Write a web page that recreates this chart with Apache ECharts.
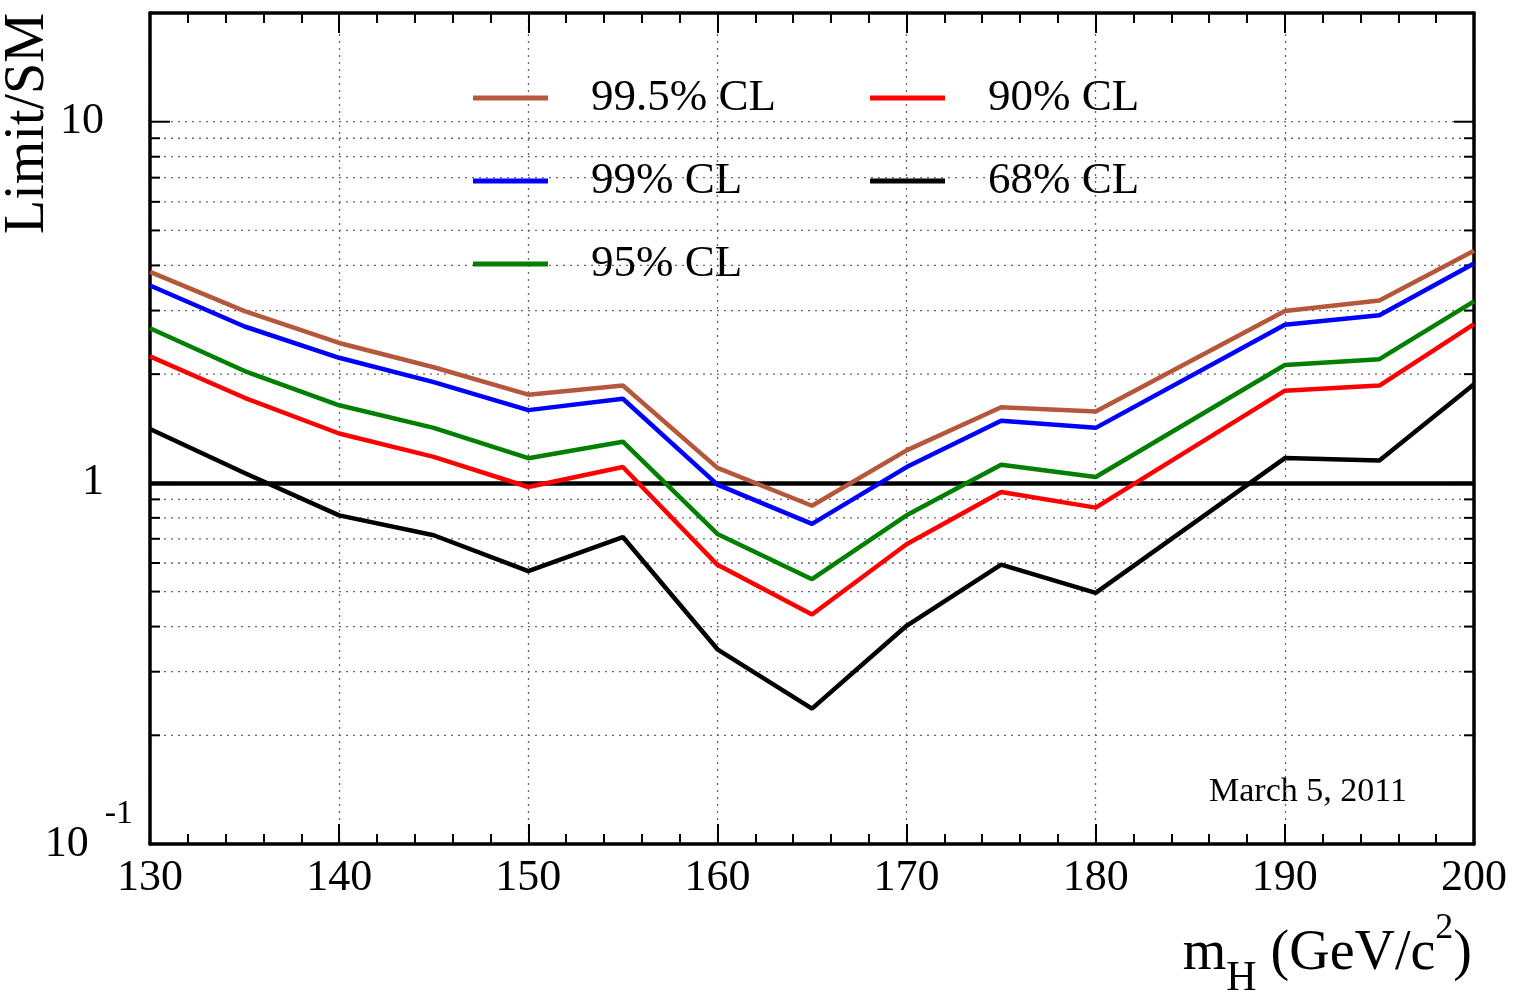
<!DOCTYPE html>
<html>
<head>
<meta charset="utf-8">
<script src="https://cdn.jsdelivr.net/npm/echarts@6/dist/echarts.min.js"></script>
<style>
html,body{margin:0;padding:0;background:#fff;}
#chart{width:1529px;height:996px;}
</style>
</head>
<body>
<div id="chart"></div>
<script>
// ---- data ----
const massPoints = [130, 135, 140, 145, 150, 155, 160, 165, 170, 175, 180, 190, 195, 200];
const cl995 = [3.84, 2.99, 2.44, 2.09, 1.755, 1.86, 1.10, 0.864, 1.23, 1.62, 1.575, 2.99, 3.20, 4.39];
const cl99  = [3.52, 2.71, 2.22, 1.90, 1.59, 1.71, 0.989, 0.770, 1.106, 1.485, 1.42, 2.74, 2.91, 4.05];
const cl95  = [2.68, 2.04, 1.64, 1.42, 1.17, 1.30, 0.722, 0.541, 0.813, 1.123, 1.038, 2.12, 2.20, 3.18];
const cl90  = [2.24, 1.72, 1.37, 1.18, 0.974, 1.106, 0.593, 0.432, 0.676, 0.943, 0.854, 1.80, 1.86, 2.75];
const cl68  = [1.41, 1.065, 0.813, 0.716, 0.570, 0.708, 0.346, 0.237, 0.402, 0.594, 0.496, 1.171, 1.154, 1.875];

const seriesNames = ['99.5% CL', '99% CL', '95% CL', '90% CL', '68% CL'];
const seriesColors = ['#b5573b', '#0000ff', '#007f00', '#ff0000', '#000000'];
const legendCol1 = ['99.5% CL', '99% CL', '95% CL'];
const legendCol2 = ['90% CL', '68% CL'];

const xMin = 130, xMax = 200, xStep = 10;
const yMin = 0.1, yMax = 20;
const yMajorTicks = [0.1, 1, 10];
const yMinorTicks = [0.2, 0.3, 0.4, 0.5, 0.6, 0.7, 0.8, 0.9, 2, 3, 4, 5, 6, 7, 8, 9];
const smLine = 1;

const xTitle = '{m|m}{h|H}{t| (GeV/c}{sq|2}{t|)}';
const yTitle = 'Limit/SM';
const dateNote = 'March 5, 2011';

// ---- build ----
const FONT = 'Liberation Serif';
const allSeriesData = [cl995, cl99, cl95, cl90, cl68];

const lineSeries = allSeriesData.map((arr, i) => ({
  name: seriesNames[i],
  type: 'line',
  xAxisIndex: 0,
  yAxisIndex: 0,
  data: massPoints.map((m, j) => [m, arr[j]]),
  showSymbol: false,
  symbol: 'none',
  color: seriesColors[i],
  lineStyle: { width: 4.5, color: seriesColors[i] },
  z: 3,
  animation: false
}));

const tickData = yMajorTicks.map(v => [xMin, v, 1]).concat(yMinorTicks.map(v => [xMin, v, 0]));

const gridSeries = {
  name: 'ygrid',
  type: 'custom',
  xAxisIndex: 0,
  yAxisIndex: 0,
  data: tickData,
  encode: { x: 0, y: 1 },
  clip: false,
  silent: true,
  z: 1,
  renderItem: function (params, api) {
    const v = api.value(1);
    const major = api.value(2) === 1;
    const L = api.coord([xMin, v]);
    const R = api.coord([xMax, v]);
    const len = major ? 20 : 10;
    const children = [];
    if (v > yMin * 1.01) {
      children.push({ type: 'line', shape: { x1: L[0], y1: L[1], x2: R[0], y2: R[1] },
        style: { stroke: '#666', lineWidth: 1.3, lineDash: [2, 5] } });
    }
    children.push({ type: 'line', shape: { x1: L[0], y1: L[1], x2: L[0] + len, y2: L[1] },
      style: { stroke: '#000', lineWidth: 2 } });
    children.push({ type: 'line', shape: { x1: R[0] - len, y1: R[1], x2: R[0], y2: R[1] },
      style: { stroke: '#000', lineWidth: 2 } });
    return { type: 'group', children: children };
  },
  markLine: {
    silent: true,
    symbol: 'none',
    z: 2,
    label: { show: false },
    lineStyle: { color: '#000', width: 4.5, type: 'solid' },
    data: [{ yAxis: smLine }],
    animation: false
  },
  animation: false
};

function xAxisCfg(pos, showLabel) {
  return {
    type: 'value', min: xMin, max: xMax, interval: xStep, position: pos,
    axisLine: { show: true, onZero: false, lineStyle: { color: '#000', width: 3.5 } },
    axisTick: { show: true, inside: true, length: 20, lineStyle: { color: '#000', width: 2 } },
    minorTick: { show: true, splitNumber: 5, length: 10, lineStyle: { color: '#000', width: 2 } },
    axisLabel: { show: showLabel, fontSize: 44, fontFamily: FONT, color: '#000', margin: 12,
      showMinLabel: true, showMaxLabel: true },
    splitLine: { show: showLabel, lineStyle: { color: '#666', width: 1.3, type: [2, 5] } }
  };
}

function near(a, b) { return Math.abs(a - b) < 1e-6 * Math.max(1, Math.abs(b)); }

const option = {
  animation: false,
  backgroundColor: '#fff',
  grid: { left: 150, right: 55, top: 13, bottom: 152, containLabel: false },
  xAxis: [xAxisCfg('bottom', true), xAxisCfg('top', false)],
  yAxis: [
    {
      type: 'log', logBase: 10, min: yMin, max: yMax, position: 'left',
      axisLine: { show: true, onZero: false, lineStyle: { color: '#000', width: 3.5 } },
      axisTick: { show: false },
      splitLine: { show: false },
      axisLabel: {
        show: true, margin: 17, color: '#000', fontFamily: FONT, fontSize: 44,
        showMinLabel: true, showMaxLabel: true,
        formatter: function (v) {
          if (near(v, 10)) return '{n|10}';
          if (near(v, 1)) return '{n|1}';
          if (near(v, 0.1)) return '{b|10}{s|-1}';
          return '';
        },
        rich: {
          n: { fontSize: 44, fontFamily: FONT, color: '#000', lineHeight: 44, padding: [0, 29, 0, 0] },
          b: { fontSize: 44, fontFamily: FONT, color: '#000', lineHeight: 44, padding: [35, 16, 35, 0] },
          s: { fontSize: 34, fontFamily: FONT, color: '#000', lineHeight: 34, padding: [10, 0, 70, 0] }
        }
      }
    },
    {
      type: 'log', logBase: 10, min: yMin, max: yMax, position: 'right',
      axisLine: { show: true, onZero: false, lineStyle: { color: '#000', width: 3.5 } },
      axisTick: { show: false },
      splitLine: { show: false },
      axisLabel: { show: false }
    }
  ],
  legend: [
    {
      data: legendCol1, orient: 'vertical', left: 473, top: 75, padding: 0,
      icon: 'rect', itemWidth: 75, itemHeight: 5, itemGap: 37,
      selectedMode: false,
      textStyle: { fontSize: 45, fontFamily: FONT, color: '#000', lineHeight: 46, padding: [0, 0, 0, 38] }
    },
    {
      data: legendCol2, orient: 'vertical', left: 870, top: 75, padding: 0,
      icon: 'rect', itemWidth: 75, itemHeight: 5, itemGap: 37,
      selectedMode: false,
      textStyle: { fontSize: 45, fontFamily: FONT, color: '#000', lineHeight: 46, padding: [0, 0, 0, 38] }
    }
  ],
  title: {
    text: xTitle,
    right: 57, top: 926, padding: 0,
    textStyle: {
      fontFamily: FONT, color: '#000', fontWeight: 'normal',
      rich: {
        m: { fontSize: 56, fontFamily: FONT, color: '#000', lineHeight: 56 },
        t: { fontSize: 56, fontFamily: FONT, color: '#000', lineHeight: 56 },
        h: { fontSize: 42, fontFamily: FONT, color: '#000', lineHeight: 42, padding: [50, 0, 0, 0] },
        sq: { fontSize: 36, fontFamily: FONT, color: '#000', lineHeight: 36, padding: [9, 0, 59, 0] }
      }
    }
  },
  graphic: [
    {
      type: 'text', x: 28, y: 13, rotation: Math.PI / 2,
      style: { text: yTitle, font: '56px "Liberation Serif"', fill: '#000', align: 'right', verticalAlign: 'middle' }
    },
    {
      type: 'text', x: 1308, y: 792,
      style: { text: dateNote, font: '34px "Liberation Serif"', fill: '#000', align: 'center', verticalAlign: 'middle' }
    }
  ],
  series: [gridSeries].concat(lineSeries)
};

const chart = echarts.init(document.getElementById('chart'), null, { renderer: 'canvas' });
chart.setOption(option);
</script>
</body>
</html>
